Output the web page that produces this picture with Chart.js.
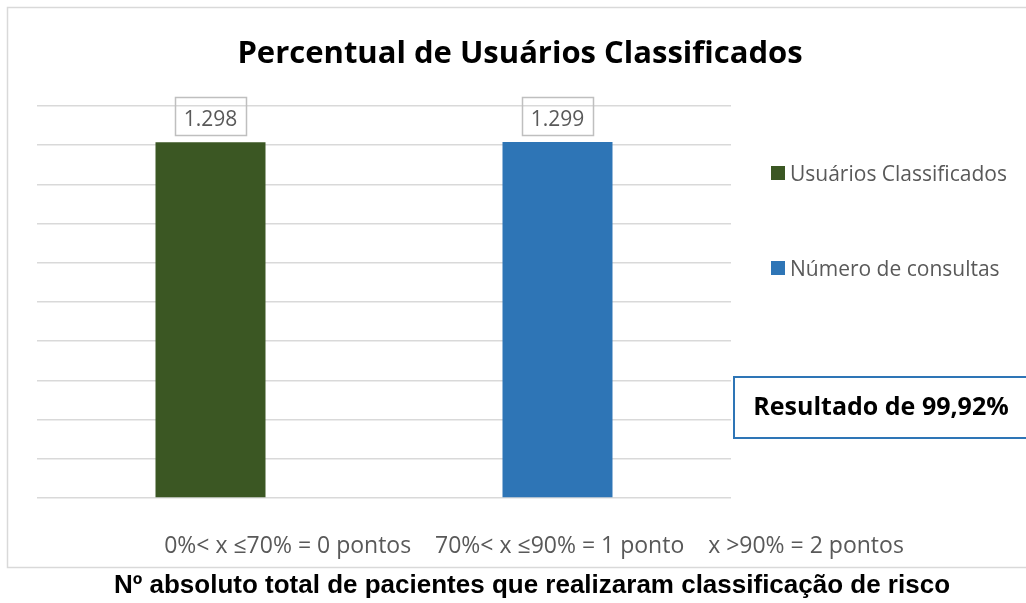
<!DOCTYPE html>
<html lang="pt-BR">
<head>
<meta charset="utf-8">
<title>Percentual de Usuários Classificados</title>
<script src="https://cdn.jsdelivr.net/npm/chart.js@4.4.1/dist/chart.umd.min.js"></script>
<style>
  html, body { margin: 0; padding: 0; background: #fff; }
  #grafico { display: block; }
</style>
</head>
<body>
<canvas id="grafico" width="1026" height="603"></canvas>
<script>
// Dados do gráfico
const categorias = ['Usuários Classificados', 'Número de consultas'];
const usuariosClassificados = [1298, null];
const numeroConsultas = [null, 1299];
const tituloGrafico = 'Percentual de Usuários Classificados';
const textoEixoX = '0%< x \u226470% = 0 pontos    70%< x \u226490% = 1 ponto    x >90% = 2 pontos';
const textoResultado = 'Resultado de 99,92%';
const legenda = 'Nº absoluto total de pacientes que realizaram classificação de risco';

const corVerde = '#3b5723';
const corAzul = '#2e75b6';
const cinzaTexto = '#595959';

// formata 1298 -> "1.298"
function formatarNumero(v) {
    return String(v).replace(/\B(?=(\d{3})+(?!\d))/g, '.');
}

// Plugin que desenha moldura, título, rótulos, legenda e caixas de texto
const decoracao = {
    id: 'decoracao',
    afterDatasetsDraw(chart) {
        const ctx = chart.ctx;
        ctx.save();

        // moldura externa
        ctx.strokeStyle = '#d9d9d9';
        ctx.lineWidth = 1.5;
        ctx.strokeRect(7.5, 7.5, 1030, 560);

        ctx.textBaseline = 'alphabetic';

        // título
        ctx.fillStyle = '#000';
        ctx.font = 'bold 31px "Open Sans"';
        ctx.textAlign = 'center';
        ctx.fillText(tituloGrafico, 520, 63);

        // rótulos de valores com caixa
        ctx.font = '21px "Open Sans"';
        chart.data.datasets.forEach((ds, i) => {
            const meta = chart.getDatasetMeta(i);
            meta.data.forEach((bar, j) => {
                const v = ds.data[j];
                if (v == null) return;
                const w = 71, h = 38;
                const x = bar.x - w / 2;
                const y = bar.y - 7 - h;
                ctx.strokeStyle = '#bfbfbf';
                ctx.lineWidth = 1.5;
                ctx.strokeRect(Math.round(x) + 0.5, Math.round(y) + 0.5, w, h);
                ctx.fillStyle = cinzaTexto;
                ctx.fillText(formatarNumero(v), bar.x, y + h - 9);
            });
        });

        // legenda
        ctx.textAlign = 'left';
        ctx.font = '21px "Open Sans"';
        const itensLegenda = [
            { texto: chart.data.datasets[0].label, cor: corVerde, y: 173 },
            { texto: chart.data.datasets[1].label, cor: corAzul, y: 268 }
        ];
        itensLegenda.forEach(item => {
            ctx.fillStyle = item.cor;
            ctx.fillRect(771, item.y - 7, 14, 14);
            ctx.fillStyle = cinzaTexto;
            ctx.fillText(item.texto, 790, item.y + 8);
        });

        // caixa de resultado
        ctx.strokeStyle = corAzul;
        ctx.lineWidth = 2;
        ctx.strokeRect(734, 377, 320, 61);
        ctx.fillStyle = '#000';
        ctx.font = 'bold 25px "Open Sans"';
        ctx.textAlign = 'center';
        ctx.fillText(textoResultado, 881, 415);

        // texto do eixo x
        ctx.fillStyle = cinzaTexto;
        ctx.font = '23px "Open Sans"';
        ctx.fillText(textoEixoX, 534, 553);

        // legenda inferior
        ctx.fillStyle = '#000';
        ctx.font = 'bold 26px "Liberation Sans"';
        ctx.fillText(legenda, 532, 593);

        ctx.restore();
    }
};

new Chart(document.getElementById('grafico'), {
    type: 'bar',
    data: {
        labels: categorias,
        datasets: [
            {
                label: 'Usuários Classificados',
                data: usuariosClassificados,
                backgroundColor: corVerde
            },
            {
                label: 'Número de consultas',
                data: numeroConsultas,
                backgroundColor: corAzul
            }
        ]
    },
    options: {
        responsive: false,
        animation: false,
        layout: { padding: { left: 37, right: 295, top: 106, bottom: 97 } },
        datasets: { bar: { categoryPercentage: 1, barPercentage: 0.317 } },
        plugins: {
            legend: { display: false },
            title: { display: false },
            tooltip: { enabled: false }
        },
        scales: {
            x: {
                stacked: true,
                grid: { display: false },
                border: { display: false },
                ticks: { display: false }
            },
            y: {
                stacked: true,
                min: 0,
                max: 1430,
                grid: { color: '#d9d9d9', lineWidth: 1.5, drawTicks: false },
                border: { display: false },
                ticks: { display: false, stepSize: 143 }
            }
        }
    },
    plugins: [decoracao]
});
</script>
</body>
</html>
